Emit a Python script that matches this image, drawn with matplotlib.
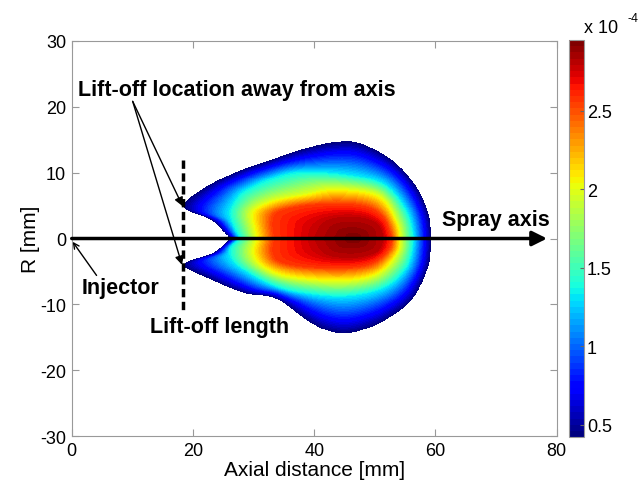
import numpy as np
import matplotlib

matplotlib.use("Agg")
import matplotlib.pyplot as plt

plt.rcParams["font.family"] = ["Liberation Sans", "DejaVu Sans"]
plt.rcParams["axes.unicode_minus"] = False

# contour lines as (axial mm, radial mm)
# values are in units of 1e-4
CENTER_X = 46.5

OUTER_UP = [(59.2, 0), (58.8, 3.5), (56.9, 7.6), (53.1, 11.6), (47.6, 14.4), (43.2, 14.6),
            (38.3, 13.6), (32.8, 11.9), (27.2, 10.1), (21.7, 7.6), (18.4, 4.8),
            (22.9, 2.8), (25.0, 1.0), (26.1, 0)]
OUTER_LO = [(59.2, 0), (58.7, -4.3), (56.0, -9.3), (51.6, -12.4), (47.5, -14.0), (44.4, -14.4),
            (41.5, -13.8), (38.7, -12.4), (33.5, -9.1), (28.5, -8.3), (23.0, -6.3), (18.4, -4.0),
            (23.0, -2.3), (25.2, -0.8), (26.1, 0)]

CYAN_UP = [(56.4, 0), (55.3, 4.0), (51.7, 8.1), (45.9, 9.6), (37.8, 10.1), (32.8, 9.1),
           (28.5, 7.3), (27.0, 6.0), (25.9, 4.0), (26.5, 2.0), (27.7, 0)]
CYAN_LO = [(56.4, 0), (55.3, -4.3), (51.5, -7.5), (45.0, -8.8), (38.0, -8.3), (33.5, -7.3),
           (29.5, -5.5), (26.5, -3.5), (26.0, -1.5), (27.7, 0)]

YELLOW_UP = [(54.2, 0), (53.7, 2.5), (50.6, 6.6), (43.2, 7.6), (38.3, 6.8), (32.8, 5.8),
             (29.5, 4.1), (29.8, 1.5), (30.2, 0)]
YELLOW_LO = [(54.2, 0), (53.8, -2.3), (50.5, -5.5), (45.0, -6.6), (38.0, -6.3), (33.5, -5.5),
             (30.5, -3.8), (29.5, -2.0), (30.2, 0)]

RED_UP = [(52.8, 0), (51.5, 3.0), (48.7, 4.8), (44.0, 5.3), (38.0, 5.0), (33.8, 4.0),
          (32.9, 2.5), (33.2, 0)]
RED_LO = [(52.8, 0), (52.2, -1.8), (49.5, -3.8), (45.0, -4.5), (38.0, -4.3), (34.0, -3.5),
          (32.9, -2.0), (33.2, 0)]

CORE_UP = [(51.3, 0), (50.3, 2.2), (46.5, 3.2), (42.0, 2.6), (40.0, 0)]
CORE_LO = [(51.3, 0), (50.3, -2.0), (46.5, -2.9), (42.0, -2.4), (40.0, 0)]

# from the centre outwards
LEVELS_UP = [CORE_UP, RED_UP, YELLOW_UP, CYAN_UP, OUTER_UP]
LEVELS_LO = [CORE_LO, RED_LO, YELLOW_LO, CYAN_LO, OUTER_LO]
LEVEL_VALUES = [2.95, 2.8, 2.55, 1.97, 1.33, 0.42]

CBAR_MIN, CBAR_MAX = 0.42, 2.95
CBAR_TICKS = [0.5, 1, 1.5, 2, 2.5]
X_TICKS = [0, 20, 40, 60, 80]
Y_TICKS = [-30, -20, -10, 0, 10, 20, 30]

LIFT_OFF_X = 18.4
TIP_UP = (18.3, 4.9)
TIP_LO = (18.2, -4.0)


def _smooth(points, n=12):
    # catmull-rom through the read points
    pts = np.asarray(points, dtype=float)
    ext = np.vstack([pts[0], pts, pts[-1]])
    out = []
    t = np.linspace(0, 1, n, endpoint=False)[:, None]
    for i in range(1, len(ext) - 2):
        p0, p1, p2, p3 = ext[i - 1], ext[i], ext[i + 1], ext[i + 2]
        seg = 0.5 * ((2 * p1) + (-p0 + p2) * t + (2 * p0 - 5 * p1 + 4 * p2 - p3) * t ** 2
                     + (-p0 + 3 * p1 - 3 * p2 + p3) * t ** 3)
        out.append(seg)
    out.append(pts[-1:])
    return np.vstack(out)


def _to_polar(points):
    pts = _smooth(points)
    dx = pts[:, 0] - CENTER_X
    th = np.degrees(np.arctan2(np.abs(pts[:, 1]), dx))
    rho = np.hypot(dx, pts[:, 1])
    order = np.argsort(th)
    return th[order], rho[order]


def _level_radius(th, points):
    t, r = _to_polar(points)
    return np.interp(th, t, r)


def build_field(xs, rs):
    X, R = np.meshgrid(xs, rs)
    dx = X - CENTER_X
    th = np.degrees(np.arctan2(np.abs(R), dx))
    rho = np.hypot(dx, R)
    upper = R >= 0

    radii = [np.zeros_like(rho)]
    for up, lo in zip(LEVELS_UP, LEVELS_LO):
        radii.append(np.where(upper, _level_radius(th, up), _level_radius(th, lo)))

    field = np.full(rho.shape, np.nan)
    for i in range(len(radii) - 1):
        r0, r1 = radii[i], radii[i + 1]
        v0, v1 = LEVEL_VALUES[i], LEVEL_VALUES[i + 1]
        inside = (rho >= r0) & (rho <= r1) & np.isnan(field)
        frac = (rho - r0) / np.maximum(r1 - r0, 1e-6)
        field[inside] = (v0 + frac * (v1 - v0))[inside]
    return field


xs = np.arange(15.0, 62.0, 0.05)
rs = np.arange(-16.0, 16.0, 0.05)
field = build_field(xs, rs)

fig = plt.figure(figsize=(6.38, 4.89), dpi=100)
ax = fig.add_axes([0.1124, 0.1057, 0.7602, 0.809])

cmap = plt.get_cmap("jet", 64).copy()
cmap.set_bad((1, 1, 1, 0))
im = ax.imshow(field, extent=[xs[0], xs[-1], rs[0], rs[-1]], origin="lower", aspect="auto",
               cmap=cmap, vmin=CBAR_MIN, vmax=CBAR_MAX, interpolation="nearest", zorder=1)

ax.set_xlim(0, 80)
ax.set_ylim(-30, 30)
ax.set_xticks(X_TICKS)
ax.set_yticks(Y_TICKS)
ax.tick_params(direction="in", length=5, width=0.8, color="#999999", labelsize=13,
               top=True, right=True, pad=4)
for sp in ax.spines.values():
    sp.set_color("#999999")
    sp.set_linewidth(0.8)
ax.set_xlabel("Axial distance [mm]", fontsize=15, labelpad=1)
ax.set_ylabel("R [mm]", fontsize=15, labelpad=0)

# spray axis
ax.annotate("", xy=(78.4, 0), xytext=(0, 0), zorder=5,
            arrowprops=dict(arrowstyle="-|>", lw=2.5, color="k", mutation_scale=22,
                            shrinkA=0, shrinkB=0))
ax.text(61.05, 2.0, "Spray axis", fontsize=15.5, fontweight="bold", va="baseline", zorder=6)

# lift-off length
ax.plot([LIFT_OFF_X, LIFT_OFF_X], [11.9, -11.4], color="k", lw=2.5, linestyle=(0, (2.4, 1.3)), zorder=5)
ax.text(12.95, -14.2, "Lift-off length", fontsize=15.5, fontweight="bold", va="baseline", zorder=6)

# lift-off location arrows
ax.text(1.09, 21.8, "Lift-off location away from axis", fontsize=15.5, fontweight="bold",
        va="baseline", zorder=6)
for tip in (TIP_UP, TIP_LO):
    ax.annotate("", xy=tip, xytext=(10.06, 20.8), zorder=5,
                arrowprops=dict(arrowstyle="-|>", lw=1.0, color="k", mutation_scale=13,
                                shrinkA=0, shrinkB=0))

# injector
ax.text(1.65, -8.3, "Injector", fontsize=15.5, fontweight="bold", va="baseline", zorder=6)
ax.annotate("", xy=(0.16, -0.5), xytext=(4.1, -5.6), zorder=5,
            arrowprops=dict(arrowstyle="->", lw=1.0, color="k", mutation_scale=10,
                            shrinkA=0, shrinkB=0))

# colorbar
cax = fig.add_axes([0.892, 0.104, 0.0235, 0.812])
cb = fig.colorbar(im, cax=cax, ticks=CBAR_TICKS)
cb.ax.set_yticklabels(["0.5", "1", "1.5", "2", "2.5"])
cb.ax.tick_params(direction="in", length=3, width=0.8, color="#666666", labelsize=13, pad=2)
cb.outline.set_edgecolor("#999999")
cb.outline.set_linewidth(0.8)
fig.text(0.915, 0.932, "x 10", fontsize=13, va="baseline")
fig.text(0.984, 0.955, "-4", fontsize=9, va="baseline")

fig.savefig("out.png", dpi=100)
